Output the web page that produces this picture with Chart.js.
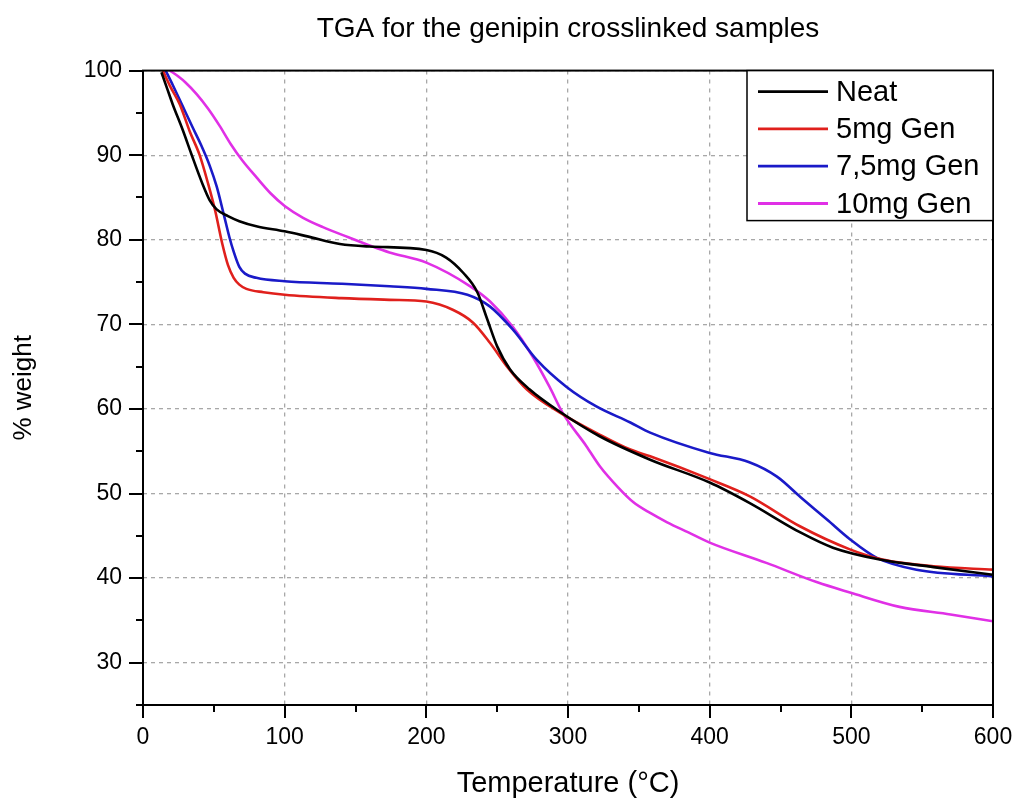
<!DOCTYPE html>
<html>
<head>
<meta charset="utf-8">
<title>TGA for the genipin crosslinked samples</title>
<script src="https://cdn.jsdelivr.net/npm/chart.js@4/dist/chart.umd.min.js"></script>
<style>
  html, body { margin: 0; padding: 0; background: #fff; }
</style>
</head>
<body>
<canvas id="tgaChart" width="1016" height="806"></canvas>
<script>
// values: temperature (°C) and % weight
const neatTemp = [13, 17, 21, 28, 34, 42, 47, 52, 60, 68, 80, 100, 116, 139, 160, 200, 214, 226, 236, 243, 250, 259, 273, 294, 322, 358, 400, 428, 464, 487, 520, 558, 600];
const neatWeight = [99.8, 97.9, 96, 93, 90.2, 86.6, 84.7, 83.6, 82.8, 82.2, 81.6, 81, 80.4, 79.5, 79.2, 78.8, 77.9, 76.1, 73.8, 70.6, 67.4, 64.7, 62.3, 59.7, 56.8, 54, 51.3, 48.9, 45.4, 43.6, 42.2, 41.3, 40.4];

const gen5Temp = [14, 19, 26, 33, 40, 46, 51, 56, 60, 64, 68, 73, 85, 100, 140, 174, 200, 219, 233, 245, 257, 271, 294, 322, 344, 358, 400, 428, 464, 499, 522, 558, 600];
const gen5Weight = [100, 98.2, 96, 92.8, 90, 86.6, 83.4, 79.5, 77, 75.5, 74.7, 74.2, 73.8, 73.5, 73.1, 72.9, 72.7, 71.7, 70.2, 67.8, 65, 62.3, 59.6, 57, 55.2, 54.4, 51.7, 49.7, 46.1, 43.4, 42.2, 41.4, 41];

const gen75Temp = [16, 21, 28, 35, 41, 47, 52, 57, 61, 64, 68, 72, 80, 100, 140, 174, 200, 229, 245, 261, 278, 299, 320, 344, 358, 400, 428, 447.5, 464, 483, 499, 518, 546, 600];
const gen75Weight = [100, 98.3, 95.8, 93.3, 91.2, 88.8, 86.3, 83, 80.3, 78.6, 76.8, 76, 75.5, 75.1, 74.8, 74.5, 74.2, 73.5, 72.1, 69.4, 65.8, 62.6, 60.3, 58.4, 57.2, 54.8, 53.7, 52, 49.6, 46.9, 44.6, 42.4, 41, 40.2];

const gen10Temp = [19, 25, 30, 38, 46, 54, 62, 70, 80, 90, 100, 113, 127, 145, 162, 174, 200, 231, 245, 261, 275, 287, 296, 313, 322.6, 335, 346, 358, 370, 385, 400, 440, 476, 499, 534, 570, 600];
const gen10Weight = [100, 99.3, 98.6, 97.2, 95.5, 93.5, 91.3, 89.4, 87.4, 85.5, 84, 82.6, 81.5, 80.3, 79.2, 78.5, 77.3, 74.5, 72.7, 69.7, 66.2, 62.6, 59.6, 55.6, 53.2, 50.8, 49, 47.7, 46.6, 45.4, 44.2, 41.8, 39.5, 38.3, 36.6, 35.7, 34.9];

const seriesLabels = ['Neat', '5mg Gen', '7,5mg Gen', '10mg Gen'];
const seriesColors = ['#000000', '#e0201c', '#1a1ac8', '#e030e6'];

const FONT = "'Liberation Sans', Arial, sans-serif";

function pairUp(xs, ys) {
    return xs.map((x, i) => ({ x: x, y: ys[i] }));
}

const seriesData = [
    pairUp(neatTemp, neatWeight),
    pairUp(gen5Temp, gen5Weight),
    pairUp(gen75Temp, gen75Weight),
    pairUp(gen10Temp, gen10Weight)
];

// frame, outward major/minor tick marks and the boxed legend
const frameAndLegend = {
    id: 'frameAndLegend',
    afterDatasetsDraw(chart) {
        const { ctx, chartArea: a, scales } = chart;
        ctx.save();
        ctx.strokeStyle = '#000';
        ctx.lineWidth = 2;
        ctx.strokeRect(a.left, a.top, a.right - a.left, a.bottom - a.top);

        ctx.beginPath();
        scales.x.ticks.forEach(t => {
            const px = Math.round(scales.x.getPixelForValue(t.value));
            const len = t.value % 100 === 0 ? 13 : 7;
            ctx.moveTo(px, a.bottom);
            ctx.lineTo(px, a.bottom + len);
        });
        scales.y.ticks.forEach(t => {
            const py = Math.round(scales.y.getPixelForValue(t.value));
            const len = t.value % 10 === 0 ? 14 : 7;
            ctx.moveTo(a.left, py);
            ctx.lineTo(a.left - len, py);
        });
        ctx.stroke();

        // legend box in the top right corner
        const boxW = 246, boxH = 150;
        const bx = a.right - boxW, by = a.top;
        ctx.fillStyle = '#fff';
        ctx.fillRect(bx, by, boxW, boxH);
        ctx.lineWidth = 1.5;
        ctx.strokeRect(bx, by, boxW, boxH);

        ctx.font = '29px ' + FONT;
        ctx.textBaseline = 'middle';
        chart.data.datasets.forEach((ds, i) => {
            const rowY = by + 21 + i * 37.3;
            ctx.strokeStyle = ds.borderColor;
            ctx.lineWidth = 2.8;
            ctx.beginPath();
            ctx.moveTo(bx + 11, rowY);
            ctx.lineTo(bx + 81, rowY);
            ctx.stroke();
            ctx.fillStyle = '#000';
            ctx.fillText(ds.label, bx + 89, rowY + 1);
        });
        ctx.restore();
    }
};

const ctx = document.getElementById('tgaChart').getContext('2d');
new Chart(ctx, {
    type: 'line',
    data: {
        datasets: seriesData.map((pts, i) => ({
            label: seriesLabels[i],
            data: pts,
            borderColor: seriesColors[i],
            backgroundColor: seriesColors[i],
            borderWidth: 2.6,
            pointRadius: 0,
            cubicInterpolationMode: 'monotone',
            fill: false
        }))
    },
    options: {
        responsive: false,
        animation: false,
        devicePixelRatio: 1,
        layout: { padding: { left: 0, right: 23, top: 0, bottom: 0 } },
        plugins: {
            legend: { display: false },
            tooltip: { enabled: false },
            title: {
                display: true,
                text: 'TGA for the genipin crosslinked samples',
                fullSize: false,
                color: '#000',
                font: { family: FONT, size: 28, weight: 'normal' },
                padding: { top: 12, bottom: 25 }
            }
        },
        scales: {
            x: {
                type: 'linear',
                min: 0,
                max: 600,
                afterFit: s => { s.height = 101; s.paddingLeft = 0; s.paddingRight = 0; },
                ticks: {
                    stepSize: 50,
                    autoSkip: false,
                    maxRotation: 0,
                    padding: 19,
                    color: '#000',
                    font: { family: FONT, size: 23 },
                    callback: v => (v % 100 === 0 ? v : '')
                },
                grid: {
                    drawTicks: false,
                    lineWidth: 1.3,
                    color: c => (c.tick && c.tick.value % 100 === 0 ? '#a8a8a8' : 'rgba(0,0,0,0)')
                },
                border: { display: false, dash: [4, 5] },
                title: {
                    display: true,
                    text: 'Temperature (°C)',
                    color: '#000',
                    font: { family: FONT, size: 29 },
                    padding: { top: 0, bottom: 5 }
                }
            },
            y: {
                min: 25,
                max: 100,
                afterFit: s => { s.width = 143; },
                ticks: {
                    stepSize: 5,
                    autoSkip: false,
                    padding: 21,
                    color: '#000',
                    font: { family: FONT, size: 23 },
                    callback: v => (v % 10 === 0 ? v : '')
                },
                grid: {
                    drawTicks: false,
                    lineWidth: 1.3,
                    color: c => (c.tick && c.tick.value % 10 === 0 ? '#a8a8a8' : 'rgba(0,0,0,0)')
                },
                border: { display: false, dash: [4, 4] },
                title: {
                    display: true,
                    text: '% weight',
                    color: '#000',
                    font: { family: FONT, size: 26 },
                    padding: { top: 8, bottom: 0 }
                }
            }
        }
    },
    plugins: [frameAndLegend]
});
</script>
</body>
</html>
